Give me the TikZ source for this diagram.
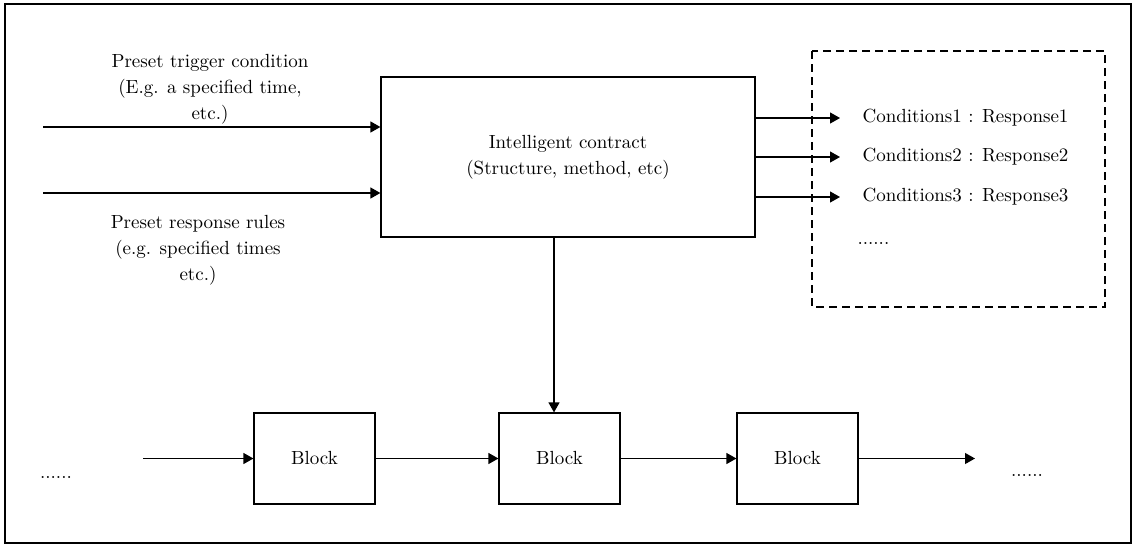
\documentclass[tikz,border=0pt]{standalone}
\usetikzlibrary{arrows.meta}
\begin{document}
\begin{tikzpicture}[x=0.5pt, y=-0.5pt, line width=0.6pt, >={Triangle[length=5pt,width=5.5pt]},
  main node/.style={rectangle,draw,align=center,inner sep=0pt},
  block node/.style={rectangle,draw,minimum width=60.5pt,minimum height=45.5pt,inner sep=0pt},
  cond node/.style={anchor=west,inner xsep=11pt,inner ysep=0pt},
  note node/.style={align=center}]
\useasboundingbox (0,0) rectangle (1135,546);
\draw[line width=0.7pt] (5,4) rectangle (1131,543);
\draw[dash pattern=on 4pt off 2.5pt] (812,51) rectangle (1105,307);
\begin{scope}[every node/.style={font=\fontsize{9.5}{13}\selectfont}]
\node [main node,minimum width=187pt,minimum height=80pt](contract) at (568,157) {Intelligent contract\\(Structure, method, etc)};
\node [note node](trigger) at (210,89) {Preset trigger condition\\(E.g. a specified time,\\etc.)};
\node [note node](rules) at (198,250) {Preset response rules\\(e.g. specified times\\etc.)};
\node [cond node](c1) at (840,118) {Conditions1 : Response1};
\node [cond node](c2) at (840,157) {Conditions2 : Response2};
\node [cond node](c3) at (840,197) {Conditions3 : Response3};
\node [anchor=base west,inner sep=0pt](cmore) at (857,244) {......};
\node [block node](b1) at (314.5,458.5) {Block};
\node [block node](b2) at (559.5,458.5) {Block};
\node [block node](b3) at (797.5,458.5) {Block};
\node [anchor=base,inner sep=0pt](dleft) at (56,478) {......};
\node [anchor=base,inner sep=0pt](dright) at (1027,476) {......};
\end{scope}
\coordinate (in1) at (43,127);
\coordinate (in2) at (43,193);
\coordinate (chainin) at (143,458.5);
\coordinate (chainout) at (975,458.5);
\coordinate (drop) at ([xshift=-2.75pt]b2.north);
\draw[->] (in1) -- (in1 -| contract.west);
\draw[->] (in2) -- (in2 -| contract.west);
\draw[->] (contract.east |- c1.west) -- (c1.west);
\draw[->] (contract.east |- c2.west) -- (c2.west);
\draw[->] (contract.east |- c3.west) -- (c3.west);
\draw[->] (contract.south -| drop) -- (drop);
\path[->]
	(chainin) edge (b1.west)
	(b1) edge (b2)
	(b2) edge (b3)
	(b3.east) edge (chainout)
	;
\end{tikzpicture}
\end{document}
